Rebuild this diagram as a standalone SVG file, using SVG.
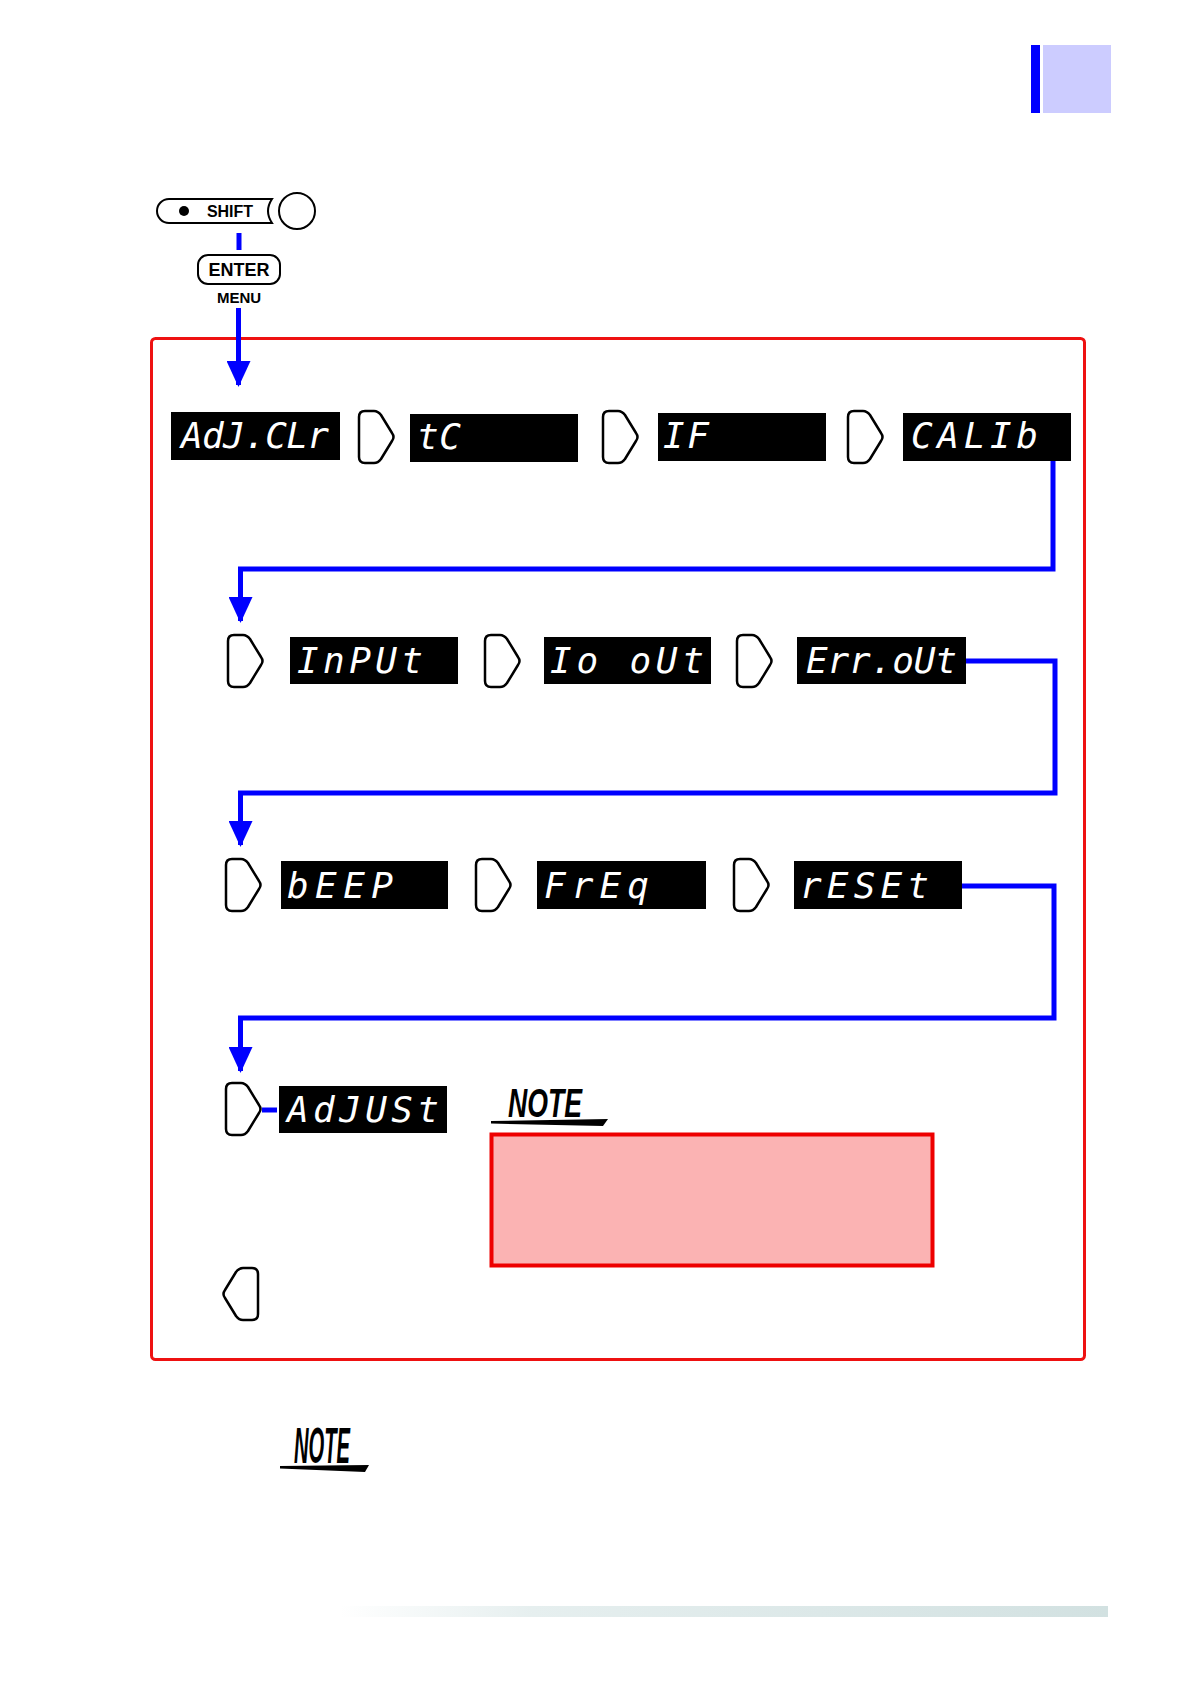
<svg xmlns="http://www.w3.org/2000/svg" width="1190" height="1684" viewBox="0 0 1190 1684">
<style>
.disp{fill:#000}
.seg{fill:#fff;font-family:"DejaVu Sans Mono","Liberation Mono",monospace;font-size:36px;font-style:oblique;white-space:pre}
.step{fill:#fff;stroke:#000;stroke-width:2.5;stroke-linejoin:round}
.conn{fill:none;stroke:#0000ff;stroke-width:5}
.note{font-family:"Liberation Sans",Arial,sans-serif;font-weight:bold;font-style:italic;fill:#000}
.key{font-family:"Liberation Sans",Arial,sans-serif;font-weight:bold;fill:#000}
</style>
<defs>
<path id="stepR" d="M6 0 L15 0 Q19 0 22 4 L33 22 Q36 26 33 30 L22 48 Q19 52 15 52 L6 52 Q0 52 0 46 L0 6 Q0 0 6 0 Z"/>
<marker id="ah" markerUnits="userSpaceOnUse" markerWidth="26" markerHeight="24" viewBox="0 0 26 24" refX="24" refY="12" orient="auto">
<path d="M0 0 L26 12 L0 24 Z" fill="#0000ff"/>
</marker>
<linearGradient id="bar" x1="0" y1="0" x2="1" y2="0">
<stop offset="0" stop-color="#ffffff"/>
<stop offset="0.25" stop-color="#e6efef"/>
<stop offset="1" stop-color="#d2e1e1"/>
</linearGradient>
</defs>

<g id="tab">
<rect x="1031" y="45" width="9" height="68" fill="#0000ff"/>
<rect x="1043" y="45" width="68" height="68" fill="#ccccff"/>
</g>

<g id="shift-key">
<path d="M169 199 L272 199 Q264 211 272 223 L169 223 A12 12 0 0 1 169 199 Z" fill="#fff" stroke="#000" stroke-width="2"/>
<circle cx="184" cy="211" r="5" fill="#000"/>
<text class="key" x="230" y="217" font-size="16" text-anchor="middle">SHIFT</text>
<circle cx="297" cy="211" r="18" fill="#fff" stroke="#000" stroke-width="2"/>
</g>

<g id="enter-key">
<rect x="198" y="255" width="82" height="29" rx="10" fill="#fff" stroke="#000" stroke-width="2"/>
<text class="key" x="239" y="276" font-size="18" text-anchor="middle">ENTER</text>
<text class="key" x="239" y="303" font-size="15" text-anchor="middle">MENU</text>
</g>

<g id="frame">
<rect x="151.5" y="338.5" width="933" height="1021" rx="4" fill="none" stroke="#ee1111" stroke-width="3"/>
</g>

<g id="connectors">
<line x1="239" y1="233" x2="239" y2="250" stroke="#0000ff" stroke-width="5"/>
<path class="conn" d="M238.5 308 L238.5 385" marker-end="url(#ah)"/>
<path class="conn" d="M1053 461 L1053 569 L240.5 569 L240.5 621" marker-end="url(#ah)"/>
<path class="conn" d="M966 661 L1055 661 L1055 793 L240.5 793 L240.5 845" marker-end="url(#ah)"/>
<path class="conn" d="M962 886 L1054 886 L1054 1018 L240.5 1018 L240.5 1071" marker-end="url(#ah)"/>
<line x1="262" y1="1110" x2="277" y2="1110" stroke="#0000ff" stroke-width="5"/>
</g>

<g id="n-adjclr"><rect class="disp" x="171" y="412" width="169" height="48"/><text class="seg" x="181" y="448" textLength="148" lengthAdjust="spacing">AdJ.CLr</text></g>
<g id="s1"><use href="#stepR" class="step" x="359" y="411"/></g>
<g id="n-tc"><rect class="disp" x="410" y="414" width="168" height="48"/><text class="seg" x="417" y="449" textLength="44" lengthAdjust="spacing">tC</text></g>
<g id="s2"><use href="#stepR" class="step" x="603" y="411"/></g>
<g id="n-if"><rect class="disp" x="658" y="413" width="168" height="48"/><text class="seg" x="663" y="448" textLength="46" lengthAdjust="spacing">I F</text></g>
<g id="s3"><use href="#stepR" class="step" x="848" y="411"/></g>
<g id="n-calib"><rect class="disp" x="903" y="413" width="168" height="48"/><text class="seg" x="911" y="448" textLength="127" lengthAdjust="spacing">CALIb</text></g>

<g id="s4"><use href="#stepR" class="step" x="228" y="635"/></g>
<g id="n-input"><rect class="disp" x="290" y="637" width="168" height="47"/><text class="seg" x="297" y="673" textLength="126" lengthAdjust="spacing">InPUt</text></g>
<g id="s5"><use href="#stepR" class="step" x="485" y="635"/></g>
<g id="n-ioout"><rect class="disp" x="544" y="637" width="167" height="47"/><text class="seg" x="550" y="673" textLength="154" lengthAdjust="spacing">Io oUt</text></g>
<g id="s6"><use href="#stepR" class="step" x="737" y="635"/></g>
<g id="n-errout"><rect class="disp" x="797" y="637" width="169" height="47"/><text class="seg" x="806" y="673" textLength="151" lengthAdjust="spacing">Err.oUt</text></g>

<g id="s7"><use href="#stepR" class="step" x="226" y="859"/></g>
<g id="n-beep"><rect class="disp" x="281" y="861" width="167" height="48"/><text class="seg" x="287" y="898" textLength="106" lengthAdjust="spacing">bEEP</text></g>
<g id="s8"><use href="#stepR" class="step" x="476" y="859"/></g>
<g id="n-freq"><rect class="disp" x="537" y="861" width="169" height="48"/><text class="seg" x="544" y="898" textLength="105" lengthAdjust="spacing">FrEq</text></g>
<g id="s9"><use href="#stepR" class="step" x="734" y="859"/></g>
<g id="n-reset"><rect class="disp" x="794" y="861" width="168" height="48"/><text class="seg" x="800" y="898" textLength="129" lengthAdjust="spacing">rESEt</text></g>

<g id="s10"><use href="#stepR" class="step" x="226" y="1083"/></g>
<g id="n-adjust"><rect class="disp" x="279" y="1086" width="168" height="47"/><text class="seg" x="287" y="1122" textLength="152" lengthAdjust="spacing">AdJUSt</text></g>

<g id="note1">
<text class="note" x="508" y="1117" font-size="40" textLength="74" lengthAdjust="spacingAndGlyphs">NOTE</text>
<path d="M491 1121 L608 1119 L603 1126 L491 1123.5 Z" fill="#000"/>
<rect x="491.5" y="1134.5" width="441" height="131" fill="#fbb3b3" stroke="#ee0000" stroke-width="4"/>
</g>

<g id="back">
<use href="#stepR" class="step" transform="translate(258 1268) scale(-1 1)"/>
</g>

<g id="note2">
<text class="note" x="294" y="1463" font-size="50" textLength="56" lengthAdjust="spacingAndGlyphs">NOTE</text>
<path d="M280 1466 L369 1465 L365 1472 L280 1468.5 Z" fill="#000"/>
</g>

<g id="footer-bar">
<rect x="340" y="1606" width="768" height="11" fill="url(#bar)"/>
</g>
</svg>
